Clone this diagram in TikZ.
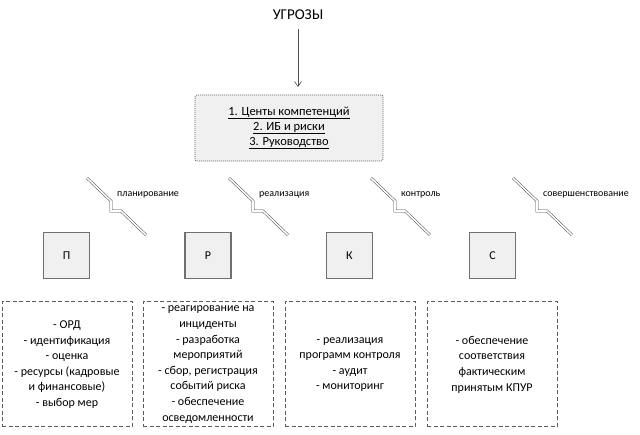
\documentclass[tikz,border=0pt]{standalone}
\usepackage{fontspec}
\setmainfont{Carlito}
\usetikzlibrary{arrows.meta}
\definecolor{boxfill}{HTML}{F0F0F0}
\definecolor{edge}{HTML}{707070}
\definecolor{dashc}{HTML}{5A5A5A}
\tikzset{
  sq/.style={draw=edge, line width=1.3pt, fill=boxfill, minimum width=46pt, minimum height=46pt, inner sep=0pt, font=\fontsize{12}{14}\selectfont},
  topbox/.style={draw=dashc, line width=0.7pt, dash pattern=on 1pt off 1pt, fill=boxfill, rounded corners=2pt, minimum width=188pt, minimum height=66pt, align=center, font=\fontsize{12.5}{15}\selectfont},
  listbox/.style={draw=dashc, line width=1pt, dash pattern=on 4pt off 2.5pt, minimum width=130pt, minimum height=125pt, inner sep=1pt, align=center, font=\fontsize{12}{15.6}\selectfont},
  bolt/.style={draw=gray!55!black, line width=0.5pt, double=white, double distance=1.6pt},
  lbl/.style={anchor=west, inner sep=0pt, font=\fontsize{10}{12}\selectfont},
}
\begin{document}
\begin{tikzpicture}[x=1pt,y=-1pt]
\useasboundingbox (0,0) rectangle (640,435);
\node[font=\fontsize{15}{18}\selectfont] (threat) at (298,15) {УГРОЗЫ};
\node[topbox] (core) at (289,128) {\underline{1. Центы компетенций}\\\underline{2. ИБ и риски}\\\underline{3. Руководство}};
\coordinate (arr) at (298,87);
\draw[-{Straight Barb[length=5pt,width=7pt]}, edge!70!black, line width=0.6pt, shorten <=6pt] (threat.south) -- (arr);
% bolts
\foreach \s/\t in {87/планирование, 229/реализация, 371/контроль, 513/совершенствование}{
  \draw[bolt] (\s,178) -- (\s+24,201) -- (\s+24,211) -- (\s+34,211) -- (\s+59,235);
  \node[lbl] at (\s+30,195) {\t};
}
\node[sq] (p) at (66.5,255.5) {П};
\node[sq] (r) at (208,255.5) {Р};
\node[sq] (k) at (349.5,255.5) {К};
\node[sq] (c) at (492.5,255.5) {С};
\node[listbox] (b1) at (67,364.5) {- ОРД\\- идентификация\\- оценка\\- ресурсы (кадровые\\и финансовые)\\- выбор мер};
\node[listbox] (b2) at (208,364.5) {- реагирование на\\инциденты\\- разработка\\мероприятий\\- сбор, регистрация\\событий риска\\- обеспечение\\осведомленности};
\node[listbox] (b3) at (350,364.5) {- реализация\\программ контроля\\- аудит\\- мониторинг};
\node[listbox] (b4) at (492,364.5) {- обеспечение\\соответствия\\фактическим\\принятым КПУР};
\end{tikzpicture}
\end{document}
